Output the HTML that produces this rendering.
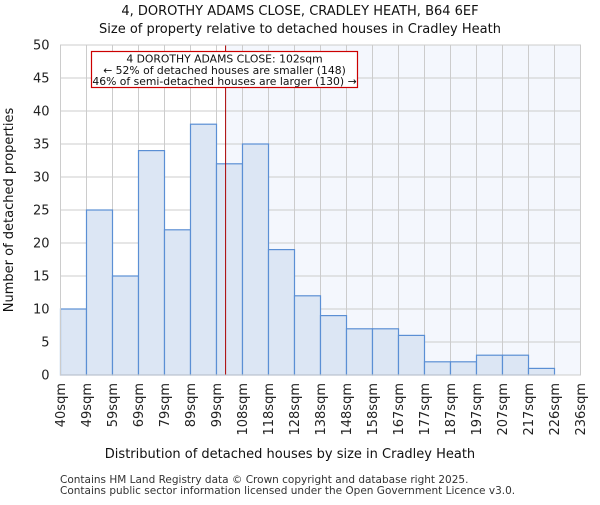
<!DOCTYPE html>
<html><head><meta charset="utf-8"><style>
body{margin:0;background:#fff;font-family:"Liberation Sans","DejaVu Sans",sans-serif;}
</style></head><body>
<svg width="600" height="500" xmlns="http://www.w3.org/2000/svg" font-family="DejaVu Sans, Liberation Sans, sans-serif">
<g id="g"></g>
</svg>
<script>
const binLabels=["40sqm","49sqm","59sqm","69sqm","79sqm","89sqm","99sqm","108sqm","118sqm","128sqm","138sqm","148sqm","158sqm","167sqm","177sqm","187sqm","197sqm","207sqm","217sqm","226sqm","236sqm"];
const counts=[10,25,15,34,22,38,32,35,19,12,9,7,7,6,2,2,3,3,1,0];
const yTicks=[0,5,10,15,20,25,30,35,40,45,50];
const markerBin=6.35;
const L=60.5,R=580.5,T=45,B=375,yMax=50;
const n=counts.length,bw=(R-L)/n;
const xs=i=>L+i*bw, ys=v=>B-(v/yMax)*(B-T);
const g=document.getElementById('g');
const NS='http://www.w3.org/2000/svg';
function mk(tag,attrs,parent){const e=document.createElementNS(NS,tag);for(const k in attrs)e.setAttribute(k,attrs[k]);(parent||g).appendChild(e);return e;}
const mx=xs(markerBin);
const shade=mk('rect',{x:mx,y:T,width:R-mx,height:B-T,fill:'#f4f7fd'});


yTicks.forEach(t=>{
 const l=mk('line',{x1:L,x2:R,y1:ys(t),y2:ys(t),stroke:'#cccccc','stroke-width':1});
 
 
 const tx=mk('text',{x:L-11,y:ys(t)+4.5,'text-anchor':'end','font-size':13,fill:'#222'});
 tx.textContent=t;
 
 
});
binLabels.forEach((lab,i)=>{
 const l=mk('line',{x1:xs(i),x2:xs(i),y1:T,y2:B,stroke:'#cccccc','stroke-width':1});
 
 
 const tx=mk('text',{x:0,y:0,'text-anchor':'end','font-size':13,fill:'#222',transform:`translate(${xs(i)+4.5},${B+8}) rotate(-90)`});
 tx.textContent=lab;
 
 
});
counts.forEach((v,i)=>{
 if(v<=0)return;
 const r=mk('rect',{x:xs(i),y:ys(v),width:bw,height:B-ys(v),fill:'#dce6f4',stroke:'#5b8fd4','stroke-width':1.2});
 
 
});
const ml=mk('line',{x1:mx,x2:mx,y1:T,y2:B,stroke:'#aa0000','stroke-width':1});


const box=mk('rect',{x:91.5,y:51.5,width:266,height:36,fill:'#fff',stroke:'#cc0000','stroke-width':1.2});


[["4 DOROTHY ADAMS CLOSE: 102sqm",62.5],["← 52% of detached houses are smaller (148)",74],["46% of semi-detached houses are larger (130) →",85]].forEach(([s,y])=>{
 const t=mk('text',{x:224.5,y:y,'text-anchor':'middle','font-size':10.8,fill:'#111'});
 t.textContent=s;
 
 
});
const fr=mk('rect',{x:L,y:T,width:R-L,height:B-T,fill:'none',stroke:'#cccccc'});


function txt(s,attrs,name){const t=mk('text',attrs);t.textContent=s;}
txt("4, DOROTHY ADAMS CLOSE, CRADLEY HEATH, B64 6EF",{x:300,y:15,'text-anchor':'middle','font-size':13,fill:'#111'},'chart-title');
txt("Size of property relative to detached houses in Cradley Heath",{x:300,y:33,'text-anchor':'middle','font-size':13,fill:'#111'},'chart-subtitle');
txt("Distribution of detached houses by size in Cradley Heath",{x:290,y:458,'text-anchor':'middle','font-size':13,fill:'#111'},'x-axis-title');
txt("Number of detached properties",{x:0,y:0,'text-anchor':'middle','font-size':13,fill:'#111',transform:'translate(13,210) rotate(-90)'},'y-axis-title');
txt("Contains HM Land Registry data © Crown copyright and database right 2025.",{x:60,y:483,'font-size':10.5,fill:'#333'},'footer-line-1');
txt("Contains public sector information licensed under the Open Government Licence v3.0.",{x:60,y:494,'font-size':10.5,fill:'#333'},'footer-line-2');
</script>
</body></html>
